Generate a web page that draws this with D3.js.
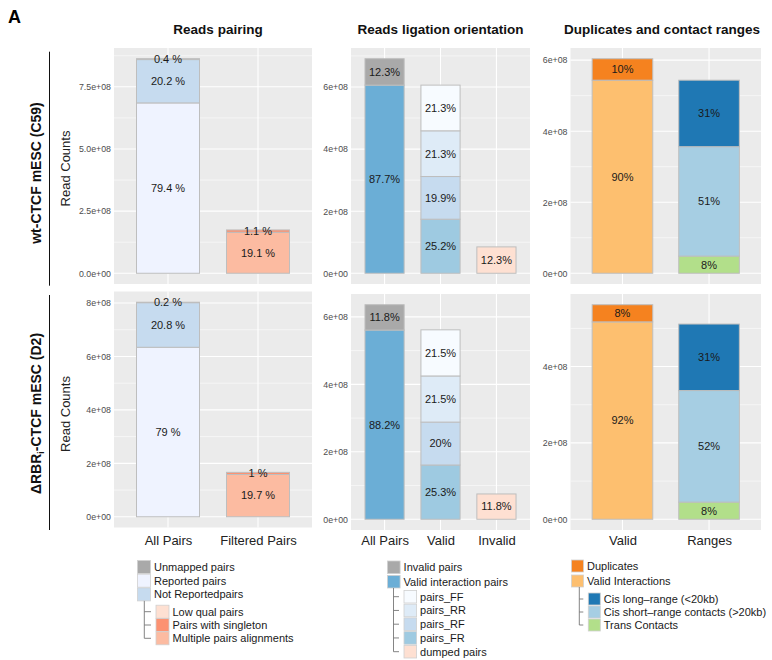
<!DOCTYPE html>
<html>
<head>
<meta charset="utf-8">
<script src="https://cdn.jsdelivr.net/npm/d3@7"></script>
<style>
  body { margin: 0; background: #fff; }
  svg { display: block; font-family: "Liberation Sans", Arial, Helvetica, sans-serif; }
</style>
</head>
<body>
<svg id="chart" width="772" height="660"></svg>
<script>
// ---- data -------------------------------------------------------------
const panelTitles = ["Reads pairing", "Reads ligation orientation", "Duplicates and contact ranges"];

const pairingCategories = ["All Pairs", "Filtered Pairs"];
const ligationCategories = ["All Pairs", "Valid", "Invalid"];
const rangeCategories = ["Valid", "Ranges"];

// total read counts of the first bar in each panel, per sample [wt, ΔRBR]
const pairingTotals = [8.63e8, 8.03e8];
const ligationTotals = [6.91e8, 6.36e8];
const rangeTotals = [6.04e8, 5.62e8];

// stacked segments, bottom to top within each bar; pct = share of the panel total, per sample
const pairingSeries = [
  { name: "Reported pairs", bar: "All Pairs", pct: [79.4, 79] },
  { name: "Not Reportedpairs", bar: "All Pairs", pct: [20.2, 20.8] },
  { name: "Unmapped pairs", bar: "All Pairs", pct: [0.4, 0.2] },
  { name: "Multiple pairs alignments", bar: "Filtered Pairs", pct: [19.1, 19.7] },
  { name: "Pairs with singleton", bar: "Filtered Pairs", pct: [1.1, 1] },
  { name: "Low qual pairs", bar: "Filtered Pairs", pct: [0, 0] }
];
const ligationSeries = [
  { name: "Valid interaction pairs", bar: "All Pairs", pct: [87.7, 88.2] },
  { name: "Invalid pairs", bar: "All Pairs", pct: [12.3, 11.8] },
  { name: "pairs_FR", bar: "Valid", pct: [25.2, 25.3] },
  { name: "pairs_RF", bar: "Valid", pct: [19.9, 20] },
  { name: "pairs_RR", bar: "Valid", pct: [21.3, 21.5] },
  { name: "pairs_FF", bar: "Valid", pct: [21.3, 21.5] },
  { name: "dumped pairs", bar: "Invalid", pct: [12.3, 11.8] }
];
const rangeSeries = [
  { name: "Valid Interactions", bar: "Valid", pct: [90, 92] },
  { name: "Duplicates", bar: "Valid", pct: [10, 8] },
  { name: "Trans Contacts", bar: "Ranges", pct: [8, 8] },
  { name: "Cis short\u2013range contacts (>20kb)", bar: "Ranges", pct: [51, 52] },
  { name: "Cis long\u2013range (<20kb)", bar: "Ranges", pct: [31, 31] }
];

// y-axis breaks and their labels, per sample row
const pairingTicks = [[0, 2.5e8, 5e8, 7.5e8], [0, 2e8, 4e8, 6e8, 8e8]];
const pairingTickLabels = [["0.0e+00", "2.5e+08", "5.0e+08", "7.5e+08"], ["0e+00", "2e+08", "4e+08", "6e+08", "8e+08"]];
const ligationTicks = [[0, 2e8, 4e8, 6e8], [0, 2e8, 4e8, 6e8]];
const ligationTickLabels = [["0e+00", "2e+08", "4e+08", "6e+08"], ["0e+00", "2e+08", "4e+08", "6e+08"]];
const rangeTicks = [[0, 2e8, 4e8, 6e8], [0, 2e8, 4e8]];
const rangeTickLabels = [["0e+00", "2e+08", "4e+08", "6e+08"], ["0e+00", "2e+08", "4e+08"]];

// legend entries (top level, then nested)
const pairingLegendMain = ["Unmapped pairs", "Reported pairs", "Not Reportedpairs"];
const pairingLegendSub = ["Low qual pairs", "Pairs with singleton", "Multiple pairs alignments"];
const ligationLegendMain = ["Invalid pairs", "Valid interaction pairs"];
const ligationLegendSub = ["pairs_FF", "pairs_RR", "pairs_RF", "pairs_FR", "dumped pairs"];
const rangeLegendMain = ["Duplicates", "Valid Interactions"];
const rangeLegendSub = ["Cis long\u2013range (<20kb)", "Cis short\u2013range contacts (>20kb)", "Trans Contacts"];

// ---- styles -------------------------------------------------------------
const fillColors = {
  "Unmapped pairs": "#A9A9A9",
  "Reported pairs": "#EFF3FF",
  "Not Reportedpairs": "#C6DBEF",
  "Low qual pairs": "#FEE0D2",
  "Pairs with singleton": "#FC9272",
  "Multiple pairs alignments": "#FCBBA1",
  "Invalid pairs": "#A9A9A9",
  "Valid interaction pairs": "#6BAED6",
  "pairs_FF": "#F7FBFF",
  "pairs_RR": "#DEEBF7",
  "pairs_RF": "#C6DBEF",
  "pairs_FR": "#9ECAE1",
  "dumped pairs": "#FEE0D2",
  "Duplicates": "#F5821F",
  "Valid Interactions": "#FDBF6F",
  "Cis long\u2013range (<20kb)": "#1F78B4",
  "Cis short\u2013range contacts (>20kb)": "#A6CEE3",
  "Trans Contacts": "#B2DF8A"
};

const svg = d3.select("#chart");

const panels = [
  { cats: pairingCategories, series: pairingSeries, totals: pairingTotals, ticks: pairingTicks, tickLabels: pairingTickLabels, suffix: " %", xr: [114, 312] },
  { cats: ligationCategories, series: ligationSeries, totals: ligationTotals, ticks: ligationTicks, tickLabels: ligationTickLabels, suffix: "%", xr: [351, 530] },
  { cats: rangeCategories, series: rangeSeries, totals: rangeTotals, ticks: rangeTicks, tickLabels: rangeTickLabels, suffix: "%", xr: [570.5, 761] }
];
// vertical extent of every panel: [row][panel]
const panelY = [
  [[48, 284], [48, 284], [48, 284]],
  [[291.5, 527.5], [294, 530], [294, 530]]
];

panels.forEach((p, pi) => {
  [0, 1].forEach(r => {
    const [x0, x1] = p.xr;
    const [y0, y1] = panelY[r][pi];
    const n = p.cats.length;
    const x = d3.scaleLinear().domain([0.4, n + 0.6]).range([x0, x1]);

    // stack the segments
    const tops = {};
    p.cats.forEach(c => tops[c] = 0);
    const segs = p.series.map(s => {
      const v = p.totals[r] * s.pct[r] / 100;
      const b0 = tops[s.bar];
      tops[s.bar] += v;
      return { name: s.name, bar: s.bar, pct: s.pct[r], b0: b0, b1: b0 + v };
    });
    const maxV = d3.max(Object.values(tops));
    const y = d3.scaleLinear().domain([-0.05 * maxV, 1.05 * maxV]).range([y1, y0]);

    const g = svg.append("g");
    g.append("rect").attr("x", x0).attr("y", y0).attr("width", x1 - x0).attr("height", y1 - y0).attr("fill", "#EBEBEB");

    // minor grid lines halfway between breaks
    const t = p.ticks[r];
    const step = t[1] - t[0];
    const minors = [t[0] - step / 2].concat(t.map(v => v + step / 2))
      .filter(v => v >= y.domain()[0] && v <= y.domain()[1]);
    g.selectAll(".minor").data(minors).join("line")
      .attr("x1", x0).attr("x2", x1).attr("y1", d => y(d)).attr("y2", d => y(d))
      .attr("stroke", "#fff").attr("stroke-width", 0.55);
    g.selectAll(".major").data(t).join("line")
      .attr("x1", x0).attr("x2", x1).attr("y1", d => y(d)).attr("y2", d => y(d))
      .attr("stroke", "#fff").attr("stroke-width", 1.1);
    g.selectAll(".vgrid").data(d3.range(1, n + 1)).join("line")
      .attr("x1", d => x(d)).attr("x2", d => x(d)).attr("y1", y0).attr("y2", y1)
      .attr("stroke", "#fff").attr("stroke-width", 1.1);

    // bars
    const ci = name => p.cats.indexOf(name) + 1;
    g.selectAll(".seg").data(segs.filter(s => s.b1 > s.b0)).join("rect")
      .attr("x", d => x(ci(d.bar) - 0.35))
      .attr("width", d => x(ci(d.bar) + 0.35) - x(ci(d.bar) - 0.35))
      .attr("y", d => y(d.b1))
      .attr("height", d => y(d.b0) - y(d.b1))
      .attr("fill", d => fillColors[d.name])
      .attr("stroke", "#BEBEBE").attr("stroke-width", 1);

    // percentage labels at segment middles
    g.selectAll(".lab").data(segs.filter(s => s.pct > 0)).join("text")
      .attr("x", d => x(ci(d.bar)))
      .attr("y", d => y((d.b0 + d.b1) / 2))
      .attr("dy", "0.35em")
      .attr("text-anchor", "middle")
      .attr("font-size", 11)
      .attr("fill", "#1A1A1A")
      .text(d => d.pct + p.suffix);

    // y axis
    const ya = g.append("g").attr("transform", `translate(${x0},0)`)
      .call(d3.axisLeft(y).tickValues(t).tickFormat((d, i) => p.tickLabels[r][i]).tickSize(0).tickPadding(3));
    ya.select(".domain").remove();
    ya.selectAll("text").attr("font-size", 8.8).attr("fill", "#4D4D4D")
      .attr("font-family", "'Liberation Sans', Arial, sans-serif");

    // x axis on the bottom row only
    if (r === 1) {
      const xa = g.append("g").attr("transform", "translate(0,531)")
        .call(d3.axisBottom(x).tickValues(d3.range(1, n + 1)).tickFormat(d => p.cats[d - 1]).tickSize(0).tickPadding(5));
      xa.select(".domain").remove();
      xa.selectAll("text").attr("font-size", 13).attr("fill", "#222")
        .attr("font-family", "'Liberation Sans', Arial, sans-serif");
    }
  });
});

// ---- titles and row labels ---------------------------------------------
svg.append("text").attr("x", 8).attr("y", 22.7).attr("font-size", 18).attr("font-weight", "bold").text("A");

const titleX = [218, 440.5, 662];
panelTitles.forEach((tt, i) => {
  svg.append("text").attr("x", titleX[i]).attr("y", 33.5).attr("text-anchor", "middle")
    .attr("font-size", 13.5).attr("font-weight", "bold").attr("fill", "#111").text(tt);
});

const rowCenters = [173, 413.5];
const rowLines = [[51.7, 285.7], [295, 530]];
const axisTitleY = [168.5, 414];

rowCenters.forEach((cy, r) => {
  const lab = svg.append("text")
    .attr("transform", `translate(40.5,${cy}) rotate(-90)`)
    .attr("text-anchor", "middle").attr("font-size", 14).attr("font-weight", "bold").attr("fill", "#111");
  if (r === 0) {
    lab.text("wt-CTCF mESC (C59)");
  } else {
    lab.append("tspan").text("\u0394RBR");
    lab.append("tspan").attr("font-size", 9).attr("dy", 3).text("i");
    lab.append("tspan").attr("dy", -3).text("-CTCF mESC (D2)");
  }
  svg.append("line").attr("x1", 49.5).attr("x2", 49.5).attr("y1", rowLines[r][0]).attr("y2", rowLines[r][1])
    .attr("stroke", "#111").attr("stroke-width", 1);
  svg.append("text")
    .attr("transform", `translate(69.8,${axisTitleY[r]}) rotate(-90)`)
    .attr("text-anchor", "middle").attr("font-size", 13).attr("fill", "#222").text("Read Counts");
});

// ---- legends ------------------------------------------------------------
function drawLegend(cfg, mainNames, subNames) {
  const g = svg.append("g").attr("font-size", 11).attr("fill", "#1A1A1A");
  const s = cfg.size;
  mainNames.forEach((nm, i) => {
    const cy = cfg.y0 + i * cfg.mainStep;
    g.append("rect").attr("x", cfg.x0).attr("y", cy - s / 2).attr("width", s).attr("height", s)
      .attr("fill", fillColors[nm]).attr("stroke", "#D0D0D0").attr("stroke-width", 0.8);
    g.append("text").attr("x", cfg.x0 + s + 3.5).attr("y", cy).attr("dy", "0.35em").text(nm);
  });
  const lastMain = cfg.y0 + (mainNames.length - 1) * cfg.mainStep + s / 2;
  const subYs = subNames.map((_, i) => cfg.subY0 + i * cfg.subStep);
  g.append("line").attr("x1", cfg.treeX).attr("x2", cfg.treeX).attr("y1", lastMain).attr("y2", subYs[subYs.length - 1])
    .attr("stroke", "#777").attr("stroke-width", 0.9);
  subNames.forEach((nm, i) => {
    const cy = subYs[i];
    g.append("line").attr("x1", cfg.treeX).attr("x2", cfg.subX - 5).attr("y1", cy).attr("y2", cy)
      .attr("stroke", "#777").attr("stroke-width", 0.9);
    g.append("rect").attr("x", cfg.subX).attr("y", cy - s / 2).attr("width", s).attr("height", s)
      .attr("fill", fillColors[nm]).attr("stroke", "#D0D0D0").attr("stroke-width", 0.8);
    g.append("text").attr("x", cfg.subX + s + 3.5).attr("y", cy).attr("dy", "0.35em").text(nm);
  });
}

drawLegend({ x0: 137.5, y0: 567, mainStep: 13.7, size: 13, treeX: 144.3, subX: 156, subY0: 611.7, subStep: 13.3 },
  pairingLegendMain, pairingLegendSub);
drawLegend({ x0: 387.5, y0: 567.3, mainStep: 14.4, size: 12.6, treeX: 393.5, subX: 404, subY0: 596.7, subStep: 13.75 },
  ligationLegendMain, ligationLegendSub);
drawLegend({ x0: 571.5, y0: 566, mainStep: 15, size: 12, treeX: 579.3, subX: 588.3, subY0: 599, subStep: 13 },
  rangeLegendMain, rangeLegendSub);
</script>
</body>
</html>
